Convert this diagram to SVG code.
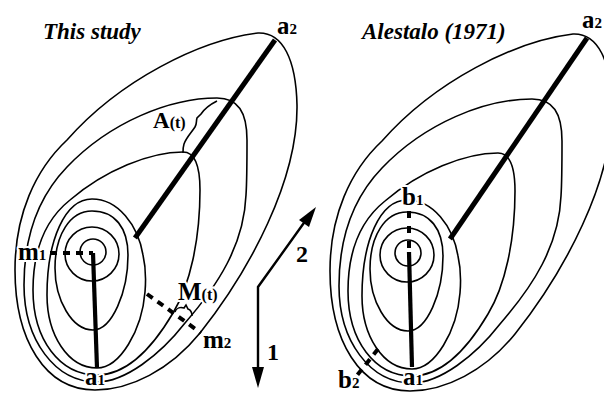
<svg xmlns="http://www.w3.org/2000/svg" xmlns:xlink="http://www.w3.org/1999/xlink" width="604" height="394" viewBox="0 0 604 394">
<style>
.c{fill:none;stroke:#000;stroke-width:1.6}
.thick{stroke:#000;stroke-width:5;fill:none}
.mid{stroke:#000;stroke-width:4.2;fill:none}
.dash{stroke:#000;stroke-width:4;fill:none;stroke-dasharray:7 6}
.t{font-family:"Liberation Serif",serif;font-weight:bold;fill:#000}
.ti{font-family:"Liberation Serif",serif;font-weight:bold;font-style:italic;font-size:23px;fill:#000}
.lab{font-size:25px;stroke:#fff;stroke-width:4;paint-order:stroke;stroke-linejoin:round}
.sub{font-size:15px}
.arr{stroke:#000;stroke-width:2.4;fill:none}
</style>
<defs>
<g id="contours">
<path class="c" d="M258,33 C283,32 296,60 297,105 C298,180 250,270 200,333 C170,370 130,390 95,390 C45,390 15,340 15,270 C15,215 35,170 67,140 C120,80 200,40 258,33 Z"/>
<path class="c" d="M217,98 C238,98 247,112 247,140 C247,160 247,180 246,195 C244,245 218,285 185,323 C160,355 125,382 97,382 C55,382 24,340 24,285 C24,235 40,195 67,167 C110,122 170,98 217,98 Z"/>
<path class="c" d="M183,152 C195,152 200,165 200,190 C200,240 190,285 173,313 C150,352 125,375 97,375 C60,375 33,340 33,290 C33,250 45,220 70,200 C105,170 150,152 183,152 Z"/>
<path class="c" d="M92,199 C118,199 138,225 143,255 C146,268 146,280 145,292 C142,330 120,368 97,368 C68,368 47,335 47,295 C47,240 65,199 92,199 Z"/>
<path class="c" d="M92,211 C115,211 128,228 128,255 C128,292 112,330 93,330 C72,330 55,300 55,268 C55,235 70,211 92,211 Z"/>
<ellipse class="c" cx="92" cy="254" rx="27" ry="27"/>
<circle class="c" cx="93" cy="252" r="13"/>
</g>
</defs>

<g id="left-figure">
<use xlink:href="#contours"/>
<line class="thick" x1="275" y1="40" x2="135" y2="238"/>
<line class="mid" x1="93" y1="253" x2="97" y2="368"/>
<line class="dash" x1="50" y1="253" x2="93" y2="253"/>
<line class="dash" x1="147" y1="294" x2="201" y2="333"/>
<path class="c" d="M217,101 C211,104 205,108 201,114 L197,118 C196,121 197,124 195,127 C191,133 186,138 184,144 C183,147 183,150 183,153"/>
<path class="c" d="M175,312 C176,308 180,307 184,308 L186,305 L188,309 C191,310 192,312 192,316"/>
<text class="ti" x="43" y="39">This study</text>
<text class="t lab" x="277" y="34">a<tspan class="sub">2</tspan></text>
<text class="t" x="153" y="128" font-size="23">A<tspan font-size="16">(t)</tspan></text>
<text class="t lab" x="18" y="260">m<tspan class="sub">1</tspan></text>
<text class="t lab" x="178" y="300" font-size="23">M<tspan font-size="16">(t)</tspan></text>
<text class="t" x="203" y="348" font-size="25">m<tspan class="sub">2</tspan></text>
<text class="t lab" x="85" y="385">a<tspan class="sub">1</tspan></text>
</g>

<g id="direction-arrows">
<polyline class="arr" points="258,372 258,287 306,220"/>
<polygon points="252,367 264,367 258,388"/>
<polygon points="316,207 309,227 299,220"/>
<text class="t" x="267" y="360" font-size="24">1</text>
<text class="t" x="296" y="262" font-size="24">2</text>
</g>

<g id="right-figure">
<use xlink:href="#contours" transform="translate(315,1)"/>
<line class="thick" x1="587" y1="38" x2="450" y2="239"/>
<line class="mid" x1="409" y1="252" x2="412" y2="367"/>
<line class="dash" x1="409" y1="211" x2="409" y2="248" style="stroke-dasharray:7 8"/>
<line class="dash" x1="378" y1="349" x2="355" y2="378"/>
<text class="ti" x="362" y="39">Alestalo (1971)</text>
<text class="t lab" x="582" y="28">a<tspan class="sub">2</tspan></text>
<text class="t lab" x="402" y="205">b<tspan class="sub">1</tspan></text>
<text class="t lab" x="403" y="385">a<tspan class="sub">1</tspan></text>
<text class="t lab" x="338" y="388">b<tspan class="sub">2</tspan></text>
</g>
</svg>
